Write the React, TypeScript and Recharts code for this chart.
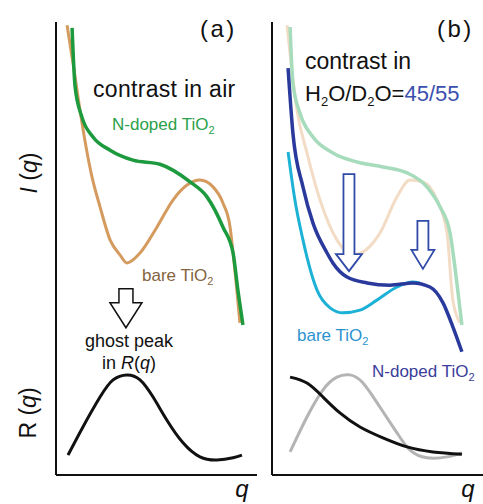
import { LineChart, Line, XAxis, YAxis, ReferenceDot } from 'recharts'

// schematic curves, [q, value] in arbitrary units (0..10)
const nDopedAir: [number, number][] = [
  [0.8, 9.87], [0.95, 8.57], [1.29, 7.9], [1.84, 7.46], [2.69, 7.17], [3.83, 6.95],
  [5.17, 6.86], [6.67, 6.47], [7.51, 6.14], [8.31, 5.47], [8.81, 4.9], [9.05, 4.08],
  [9.3, 3.31],
]
const bareAir: [number, number][] = [
  [0.55, 9.93], [0.9, 8.94], [1.19, 8.06], [1.79, 6.58], [2.19, 5.92], [2.69, 5.19],
  [3.18, 4.86], [3.53, 4.68], [4.18, 4.9], [5.02, 5.47], [5.82, 6.07], [6.52, 6.4],
  [7.16, 6.51], [7.81, 6.36], [8.31, 6.0], [8.66, 5.47], [8.81, 4.9], [9.15, 3.36],
]
const ghostR: [number, number][] = [
  [0.6, 0.44], [1.34, 1.06], [2.19, 1.72], [2.84, 2.1], [3.53, 2.21], [4.18, 2.1],
  [4.83, 1.72], [5.52, 1.21], [6.32, 0.71], [7.16, 0.4], [8.01, 0.33], [8.81, 0.38],
  [9.25, 0.44],
]

const nDopedAirFaded: [number, number][] = [
  [0.9, 9.89], [1.04, 8.65], [1.39, 7.99], [2.04, 7.46], [3.03, 7.11], [4.23, 6.91],
  [5.52, 6.8], [6.72, 6.67], [7.71, 6.36], [8.36, 5.92], [8.86, 5.34], [9.2, 4.24],
  [9.45, 3.31],
]
const bareAirFaded: [number, number][] = [
  [0.75, 9.93], [1.24, 8.06], [1.74, 7.11], [2.39, 6.07], [3.23, 5.19], [4.03, 4.86],
  [5.37, 5.34], [6.22, 6.14], [6.87, 6.51], [7.51, 6.47], [8.21, 6.07], [8.71, 5.34],
  [9.0, 3.86], [9.35, 3.36],
]
const nDopedWater: [number, number][] = [
  [0.8, 8.98], [1.04, 7.55], [1.54, 6.36], [2.04, 5.56], [2.74, 4.9], [3.03, 4.68],
  [3.73, 4.37], [4.73, 4.24], [5.87, 4.19], [7.01, 4.24], [7.86, 4.15], [8.51, 3.8],
  [9.0, 3.27], [9.45, 2.72],
]
const bareWater: [number, number][] = [
  [0.8, 7.13], [1.14, 6.07], [1.54, 5.19], [1.74, 4.81], [2.24, 4.08], [2.89, 3.69],
  [3.53, 3.58], [4.38, 3.64], [5.22, 3.86], [6.22, 4.15], [7.01, 4.26], [7.36, 4.24],
]
const waterR: [number, number][] = [
  [0.9, 2.16], [1.74, 2.03], [2.54, 1.72], [3.38, 1.37], [4.38, 1.06], [5.52, 0.82],
  [6.72, 0.62], [8.01, 0.51], [9.45, 0.46],
]
const airRFaded: [number, number][] = [
  [0.9, 0.51], [1.74, 1.28], [2.54, 1.88], [3.23, 2.16], [3.88, 2.21], [4.53, 2.03],
  [5.37, 1.5], [6.22, 0.93], [6.87, 0.55], [7.71, 0.38], [8.71, 0.4], [9.45, 0.49],
]

// arrows: q, tip value, length (value units)
const arrowsA = [{ q: 3.48, tip: 3.25, len: 0.86 }]
const arrowsB = [
  { q: 3.83, tip: 4.5, len: 2.14 },
  { q: 7.51, tip: 4.55, len: 1.06 },
]

const pts = (a: [number, number][]) => a.map(([q, v]) => ({ q, v }))

const FONT = '"Liberation Sans", Arial, Helvetica, sans-serif'
const PLOT_H = 453
const PX_PER_UNIT = PLOT_H / 10
const I_CURVE = 'monotone'
const R_CURVE = 'natural'

function arrowShape(len: number, s: number, h: number, hl: number, stroke: string, sw: number) {
  return (props: any) => {
    const { cx, cy } = props
    const L = len * PX_PER_UNIT
    const d = `M${cx},${cy} L${cx - h},${cy - hl} L${cx - s},${cy - hl} L${cx - s},${cy - L} L${cx + s},${cy - L} L${cx + s},${cy - hl} L${cx + h},${cy - hl} Z`
    return <path d={d} fill="#fff" stroke={stroke} strokeWidth={sw} strokeLinejoin="miter" />
  }
}

const axisLine = { stroke: '#111', strokeWidth: 2 }

export default function App() {
  return (
    <div style={{ position: 'absolute', left: 0, top: 0, width: 483, height: 504, background: '#fff', fontFamily: FONT }}>
      <div style={{ position: 'absolute', left: 0, top: 0 }}>
        <LineChart width={260} height={504} margin={{ top: 22, right: 3, left: 0, bottom: 0 }}>
          <XAxis type="number" dataKey="q" domain={[0, 10]} allowDataOverflow tick={false} tickLine={false} axisLine={axisLine} height={29} />
          <YAxis type="number" dataKey="v" domain={[0, 10]} allowDataOverflow tick={false} tickLine={false} axisLine={axisLine} width={56} />
          <Line data={pts(bareAir)} dataKey="v" type={I_CURVE} stroke="#d49a5e" strokeWidth={3} dot={false} isAnimationActive={false} />
          <Line data={pts(nDopedAir)} dataKey="v" type={I_CURVE} stroke="#1e9a3e" strokeWidth={3.5} dot={false} isAnimationActive={false} />
          <Line data={pts(ghostR)} dataKey="v" type={R_CURVE} stroke="#111" strokeWidth={3} dot={false} isAnimationActive={false} />
          {arrowsA.map((a, i) => (
            <ReferenceDot key={i} x={a.q} y={a.tip} shape={arrowShape(a.len, 7, 16, 25, '#111', 1.5)} />
          ))}
        </LineChart>
      </div>
      <div style={{ position: 'absolute', left: 260, top: 0 }}>
        <LineChart width={223} height={504} margin={{ top: 22, right: 0, left: 0, bottom: 0 }}>
          <XAxis type="number" dataKey="q" domain={[0, 10.5]} allowDataOverflow tick={false} tickLine={false} axisLine={axisLine} height={29} />
          <YAxis type="number" dataKey="v" domain={[0, 10]} allowDataOverflow tick={false} tickLine={false} axisLine={axisLine} width={12} />
          <Line data={pts(bareAirFaded)} dataKey="v" type={I_CURVE} stroke="#f3dcc6" strokeWidth={3} dot={false} isAnimationActive={false} />
          <Line data={pts(nDopedAirFaded)} dataKey="v" type={I_CURVE} stroke="#a6dbbb" strokeWidth={3.5} dot={false} isAnimationActive={false} />
          <Line data={pts(airRFaded)} dataKey="v" type={R_CURVE} stroke="#b4b4b4" strokeWidth={3} dot={false} isAnimationActive={false} />
          <Line data={pts(waterR)} dataKey="v" type={R_CURVE} stroke="#111" strokeWidth={3} dot={false} isAnimationActive={false} />
          <Line data={pts(bareWater)} dataKey="v" type={I_CURVE} stroke="#1eb1d6" strokeWidth={3} dot={false} isAnimationActive={false} />
          <Line data={pts(nDopedWater)} dataKey="v" type={I_CURVE} stroke="#2a3a9c" strokeWidth={3.5} dot={false} isAnimationActive={false} />
          {arrowsB.map((a, i) => (
            <ReferenceDot key={i} x={a.q} y={a.tip} shape={arrowShape(a.len, 5.5, i === 0 ? 13 : 11.5, i === 0 ? 17 : 19, '#2f4aa8', 1.8)} />
          ))}
        </LineChart>
      </div>
      <svg width={483} height={504} style={{ position: 'absolute', left: 0, top: 0, pointerEvents: 'none' }} fontFamily={FONT}>
        {/* panel (a) */}
        <text x={200} y={37} fontSize={24} letterSpacing={2.5} fill="#111">(a)</text>
        <text x={93} y={97} fontSize={23} letterSpacing={0.3} fill="#111">contrast in air</text>
        <text x={112} y={130} fontSize={17} fill="#2aa14a">
          N-doped TiO<tspan fontSize={11} dy={4}>2</tspan>
        </text>
        <text x={142} y={281} fontSize={17} fill="#85643f">
          bare TiO<tspan fontSize={11} dy={4}>2</tspan>
        </text>
        <text x={129} y={347} fontSize={18} textAnchor="middle" fill="#111">ghost peak</text>
        <text x={129} y={369} fontSize={18} textAnchor="middle" fill="#111">
          in <tspan fontStyle="italic">R</tspan>(<tspan fontStyle="italic">q</tspan>)
        </text>
        <text x={37} y={173} fontSize={23} textAnchor="middle" transform="rotate(-90, 37, 173)" fill="#111">
          <tspan fontStyle="italic">I</tspan> (<tspan fontStyle="italic">q</tspan>)
        </text>
        <text x={36} y={413} fontSize={23} textAnchor="middle" transform="rotate(-90, 36, 413)" fill="#111">
          R (<tspan fontStyle="italic">q</tspan>)
        </text>
        <text x={242} y={497} fontSize={24} fontStyle="italic" textAnchor="middle" fill="#111">q</text>
        {/* panel (b) */}
        <text x={437} y={37} fontSize={24} letterSpacing={2.5} fill="#111">(b)</text>
        <text x={305} y={69} fontSize={23} fill="#111">contrast in</text>
        <text x={305} y={101} fontSize={22} fill="#111">
          H<tspan fontSize={13} dy={5}>2</tspan><tspan dy={-5}>O/D</tspan><tspan fontSize={13} dy={5}>2</tspan><tspan dy={-5}>O=</tspan><tspan fill="#3b4fae">45/55</tspan>
        </text>
        <text x={297} y={341} fontSize={17} fill="#2b92cf">
          bare TiO<tspan fontSize={11} dy={4}>2</tspan>
        </text>
        <text x={372} y={377} fontSize={17} fill="#3a3d9a">
          N-doped TiO<tspan fontSize={11} dy={4}>2</tspan>
        </text>
        <text x={468} y={497} fontSize={24} fontStyle="italic" textAnchor="middle" fill="#111">q</text>
      </svg>
    </div>
  )
}
